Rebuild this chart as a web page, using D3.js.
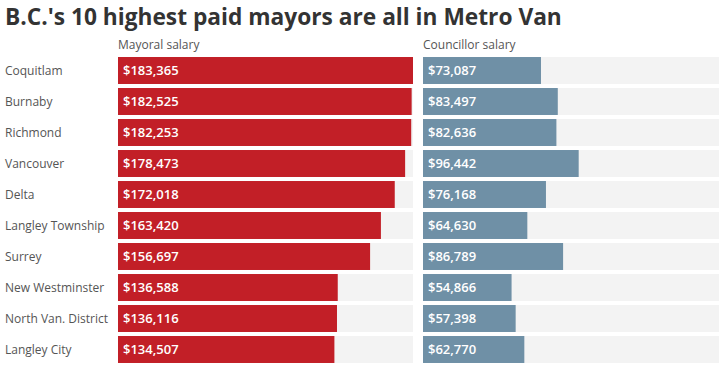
<!DOCTYPE html>
<html>
<head>
<meta charset="utf-8">
<script src="https://cdn.jsdelivr.net/npm/d3@7"></script>
<style>
  body { margin: 0; background: #fff; }
  svg { display: block; font-family: "Open Sans", "Noto Sans", sans-serif; }
</style>
</head>
<body>
<div id="chart"></div>
<script>
// B.C.'s highest paid mayors
const cities = ['Coquitlam', 'Burnaby', 'Richmond', 'Vancouver', 'Delta',
    'Langley Township', 'Surrey', 'New Westminster', 'North Van. District', 'Langley City'];
const mayorSalary = [183365, 182525, 182253, 178473, 172018, 163420, 156697, 136588, 136116, 134507];
const councillorSalary = [73087, 83497, 82636, 96442, 76168, 64630, 86789, 54866, 57398, 62770];
const panelTitles = ['Mayoral salary', 'Councillor salary'];

const width = 728, height = 371;
const svg = d3.select('#chart').append('svg')
    .attr('width', width)
    .attr('height', height);

// Title, shrunk to fit the same span as the original
const title = svg.append('text')
    .attr('x', 5)
    .attr('y', 25)
    .attr('fill', '#333')
    .style('font-weight', 'bold')
    .style('font-size', '24px')
    .text("B.C.'s 10 highest paid mayors are all in Metro Van");
const tw = title.node().getComputedTextLength();
if (tw > 557) title.style('font-size', (24 * 557 / tw) + 'px');

const y = d3.scaleBand()
    .domain(cities)
    .range([55, 365])
    .paddingInner(0.13)
    .paddingOuter(0.065);

// City labels
svg.append('g').selectAll('text')
    .data(cities)
    .enter().append('text')
    .attr('x', 5)
    .attr('y', d => y(d) + y.bandwidth() / 2)
    .attr('dy', '0.35em')
    .attr('fill', '#555')
    .style('font-size', '12px')
    .text(d => d);

const panels = [
    { x0: 118, x1: 413, values: mayorSalary, color: '#c21f27' },
    { x0: 423, x1: 719, values: councillorSalary, color: '#6f90a6' }
];

panels.forEach((p, pi) => {
    const x = d3.scaleLinear()
        .domain([0, d3.max(mayorSalary)])
        .range([p.x0, p.x1]);

    const g = svg.append('g');

    g.append('text')
        .attr('x', p.x0)
        .attr('y', 49)
        .attr('fill', '#555')
        .style('font-size', '12px')
        .text(panelTitles[pi]);

    // grey track behind bars
    g.selectAll('rect.bg')
        .data(cities)
        .enter().append('rect')
        .attr('class', 'bg')
        .attr('x', p.x0)
        .attr('y', d => y(d))
        .attr('width', p.x1 - p.x0)
        .attr('height', y.bandwidth())
        .attr('fill', '#f3f3f3');

    g.selectAll('rect.bar')
        .data(p.values)
        .enter().append('rect')
        .attr('class', 'bar')
        .attr('x', p.x0)
        .attr('y', (d, i) => y(cities[i]))
        .attr('width', d => x(d) - p.x0)
        .attr('height', y.bandwidth())
        .attr('fill', p.color);

    g.selectAll('text.val')
        .data(p.values)
        .enter().append('text')
        .attr('class', 'val')
        .attr('x', p.x0 + 5)
        .attr('y', (d, i) => y(cities[i]) + y.bandwidth() / 2)
        .attr('dy', '0.35em')
        .attr('fill', '#fff')
        .style('font-size', '13px')
        .style('font-weight', '600')
        .text(d => '$' + d3.format(',')(d));
});
</script>
</body>
</html>
